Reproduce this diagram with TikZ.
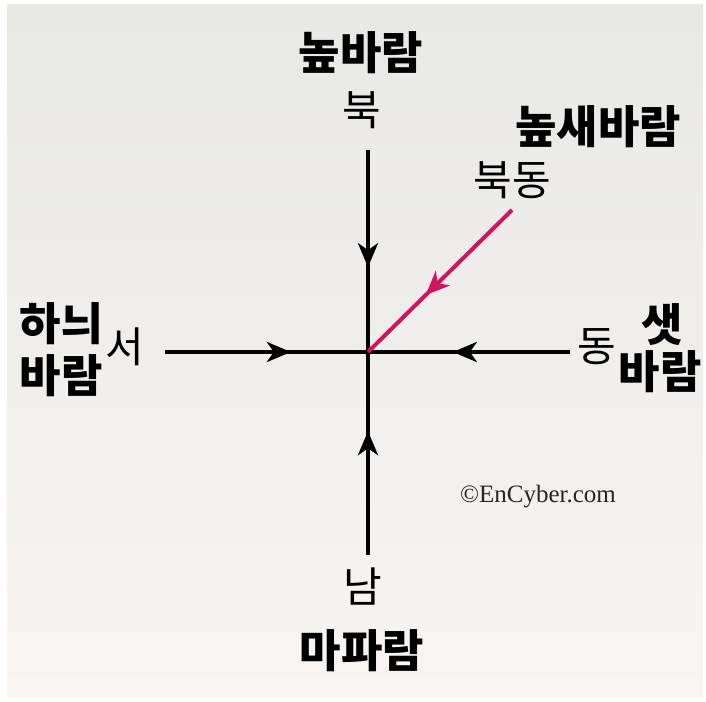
\documentclass[tikz,border=0pt]{standalone}
\usepackage{fontspec}
\newfontfamily\kr{Noto Sans CJK KR}
\setmainfont{Liberation Serif}
\usetikzlibrary{arrows.meta,decorations.markings}
\definecolor{bgtop}{RGB}{232,232,228}
\definecolor{bgbot}{RGB}{248,245,242}
\definecolor{wind}{RGB}{212,18,98}
\tikzset{
  axis/.style={line width=4pt,black},
  midarrow/.style={postaction={decorate},decoration={markings,
      mark=at position #1 with {\arrow{Stealth[length=24pt,width=20pt,inset=7pt]}}}},
  bold/.style={font=\kr\bfseries\fontsize{45}{47}\selectfont,inner sep=0pt},
  dir/.style={font=\kr\fontsize{42}{44}\selectfont,inner sep=0pt},
}
\begin{document}
\begin{tikzpicture}[x=1pt,y=-1pt]
\useasboundingbox (0,0) rectangle (706,701);
\fill[white] (0,0) rectangle (706,701);
\shade[top color=bgtop,bottom color=bgbot] (7,5) rectangle (703,697);
% coordinates
\coordinate (c) at (368,352);
\coordinate (nE) at (368,150);
\coordinate (sE) at (368,555);
\coordinate (wE) at (165,352);
\coordinate (eE) at (570,352);
\coordinate (neE) at (512,210);
% lines
\draw[axis,midarrow=0.58] (nE) -- (c);
\draw[axis,midarrow=0.61] (sE) -- (c);
\draw[axis,midarrow=0.62] (wE) -- (c);
\draw[axis,midarrow=0.58] (eE) -- (c);
\draw[line width=4pt,wind,midarrow=0.6] (neE) -- (c);
% labels
\node[bold] (nname) at (361,53) {높바람};
\node[dir] (n) at (362,110) {북};
\node[bold] (nename) at (598,127) {높새바람};
\node[dir] (ne) at (512,180) {북동};
\node[bold] (wname1) at (61,324) {하늬};
\node[bold] (wname2) at (61,376) {바람};
\node[dir] (w) at (125,347) {서};
\node[dir] (e) at (597,347) {동};
\node[bold] (ename1) at (662,325) {샛};
\node[bold] (ename2) at (660,372) {바람};
\node[dir] (s) at (363,587) {남};
\node[bold] (sname) at (362,651) {마파람};
\node[font=\fontsize{25}{27}\selectfont,inner sep=0pt,text=black!85] (copy) at (538,497) {©EnCyber.com};
\end{tikzpicture}
\end{document}
